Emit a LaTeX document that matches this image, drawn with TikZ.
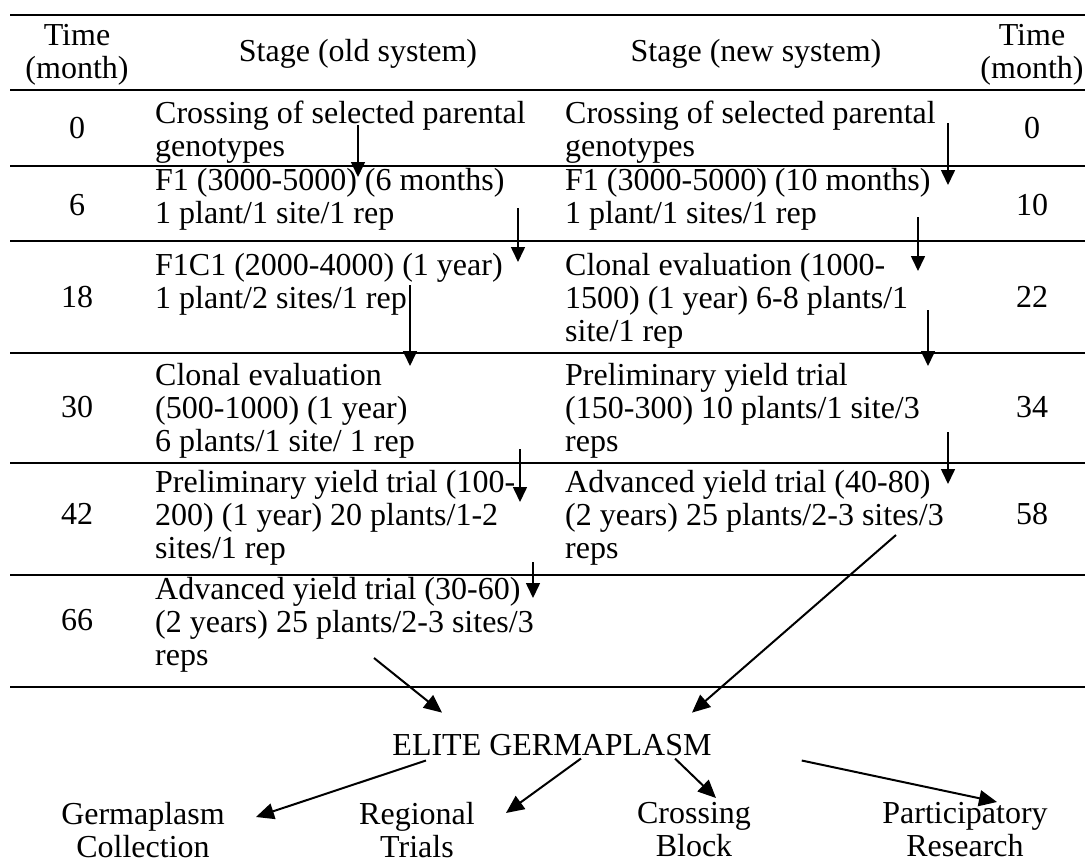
\documentclass[tikz,border=0pt]{standalone}
\usepackage{fontspec}
\setmainfont{Liberation Serif}
\usetikzlibrary{arrows.meta}

\begin{document}
\begin{tikzpicture}[x=1pt,y=-1pt,
    every node/.style={inner sep=0pt,font=\fontsize{32}{33}\selectfont},
    cell/.style={anchor=north west,align=left},
    lab/.style={anchor=north,align=center},
    hrule/.style={line width=1.6pt},
    arr/.style={line width=1.6pt,-{Triangle[width=14pt,length=15pt]}},
    bigarr/.style={line width=2pt,-{Triangle[width=16pt,length=18pt]}}]
            \useasboundingbox (0,0) rectangle (1085,865);
            % table rules
            \foreach \y in {15,90,166,241,353,463,575,687}
            \draw[hrule] (10,\y) -- (1085,\y);
            % header
            \node[lab] (tleft) at (77,24) {Time\\(month)};
            \node[lab] (tright) at (1032,24) {Time\\(month)};
            \node[anchor=base] (hold) at (358,61) {Stage (old system)};
            \node[anchor=base] (hnew) at (756,61) {Stage (new system)};
            % time columns
            \foreach \t/\y in {0/128, 6/205, 18/297, 30/407, 42/514, 66/620}
            \node (l\t) at (77,\y) {\t};
            \foreach \t/\y in {0/128, 10/205, 22/297, 34/407, 58/514}
            \node (r\t) at (1032,\y) {\t};
            % old system
            \node[cell] (old0) at (155,101) {Crossing of selected parental\\genotypes};
            \node[cell] (old6) at (155,168) {F1 (3000-5000) (6 months)\\1 plant/1 site/1 rep};
            \node[cell] (old18) at (155,253) {F1C1 (2000-4000) (1 year)\\1 plant/2 sites/1 rep};
            \node[cell] (old30) at (155,363) {Clonal evaluation\\(500-1000) (1 year)\\6 plants/1 site/ 1 rep};
            \node[cell] (old42) at (155,470) {Preliminary yield trial (100-\\200) (1 year) 20 plants/1-2\\sites/1 rep};
            \node[cell] (old66) at (155,577) {Advanced yield trial (30-60)\\(2 years) 25 plants/2-3 sites/3\\reps};
            % new system
            \node[cell] (new0) at (565,101) {Crossing of selected parental\\genotypes};
            \node[cell] (new10) at (565,168) {F1 (3000-5000) (10 months)\\1 plant/1 sites/1 rep};
            \node[cell] (new22) at (565,253) {Clonal evaluation (1000-\\1500) (1 year) 6-8 plants/1\\site/1 rep};
            \node[cell] (new34) at (565,363) {Preliminary yield trial\\(150-300) 10 plants/1 site/3\\reps};
            \node[cell] (new58) at (565,470) {Advanced yield trial (40-80)\\(2 years) 25 plants/2-3 sites/3\\reps};
            % stage arrows
            \foreach \n/\x/\ya/\yb in {1/358/125/177, 2/948/123/185, 3/518/208/262,
              4/918/217/271, 5/410/285/366, 6/928/310/366, 7/520/449/502,
              8/948/432/484, 9/533/562/598}
            {
              \coordinate (s\n) at (\x,\ya);
              \coordinate (e\n) at (\x,\yb);
              \draw[arr] (s\n) -- (e\n);
            }
            % elite germaplasm
            \node[anchor=base] (elite) at (552,755) {ELITE GERMAPLASM};
            \coordinate (fromold) at (374,658);
            \coordinate (fromnew) at (896,535);
            \draw[bigarr] (fromold) -- ([xshift=-110pt,yshift=21pt]elite.north);
            \draw[bigarr] (fromnew) -- ([xshift=140pt,yshift=21pt]elite.north);
            \node[lab] (coll) at (143,802) {Germaplasm\\Collection};
            \node[lab] (trials) at (417,802) {Regional\\Trials};
            \node[lab] (block) at (694,802) {Crossing\\Block};
            \node[lab] (part) at (965,802) {Participatory\\Research};
            \draw[bigarr] ([xshift=-126pt,yshift=-5pt]elite.south) -- ([xshift=31pt,yshift=-15pt]coll.north east);
            \draw[bigarr] ([xshift=29pt,yshift=-3pt]elite.south) -- ([xshift=31pt,yshift=-11pt]trials.north east);
            \draw[bigarr] ([xshift=123pt,yshift=-3pt]elite.south) -- ([xshift=22pt,yshift=4pt]block.north);
            \draw[bigarr] ([xshift=90pt,yshift=-5pt]elite.south east) -- ([xshift=32pt,yshift=0pt]part.north);
        \end{tikzpicture}
\end{document}
